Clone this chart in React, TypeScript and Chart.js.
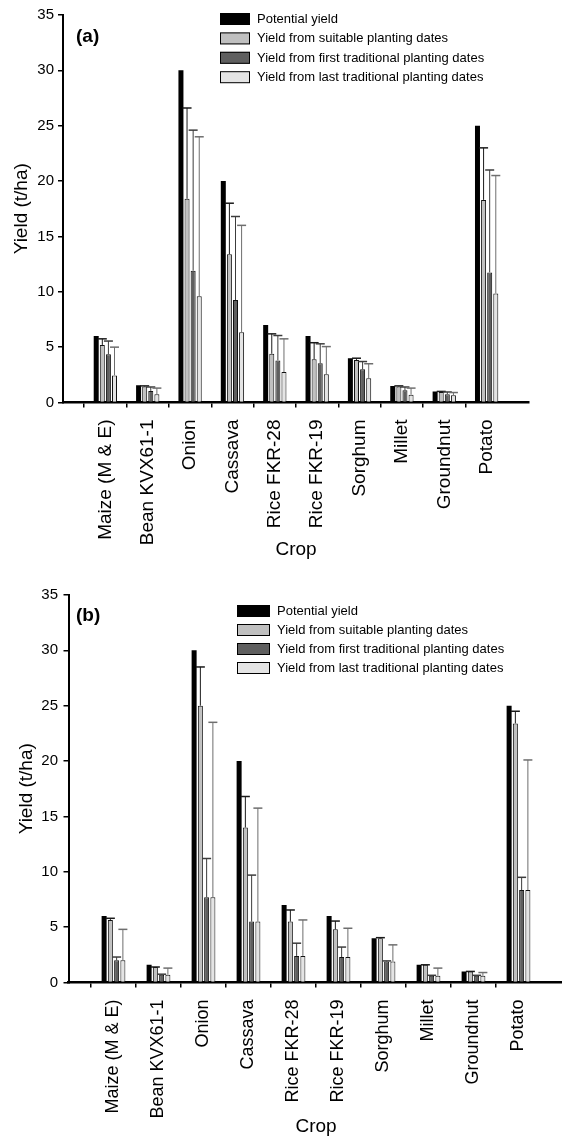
import React, { useEffect, useRef } from 'react';
import { Chart, registerables } from 'chart.js';

Chart.register(...registerables);
Chart.defaults.font.family = '"Liberation Sans", Arial, Helvetica, sans-serif';
Chart.defaults.color = '#000';

// ---------- data ----------
const crops = [
  'Maize (M & E)', 'Bean KVX61-1', 'Onion', 'Cassava', 'Rice FKR-28',
  'Rice FKR-19', 'Sorghum', 'Millet', 'Groundnut', 'Potato',
];
const seriesLabels = [
  'Potential yield',
  'Yield from suitable planting dates',
  'Yield from first traditional planting dates',
  'Yield from last traditional planting dates',
];
const yTicks = [0, 5, 10, 15, 20, 25, 30, 35];

// panel (a)
const potentialA = [6.0, 1.55, 30.0, 20.0, 7.0, 6.0, 4.0, 1.5, 1.0, 25.0];
const suitableA = [5.2, 1.45, 18.4, 13.4, 4.4, 3.9, 3.85, 1.45, 0.95, 18.3];
const firstA = [4.35, 1.05, 11.9, 9.25, 3.8, 3.55, 3.0, 1.1, 0.75, 11.75];
const lastA = [2.45, 0.75, 9.6, 6.35, 2.75, 2.55, 2.2, 0.7, 0.65, 9.85];
const suitableErrA = [5.75, 1.5, 26.6, 18.0, 6.2, 5.4, 4.0, 1.5, 1.0, 23.0];
const firstErrA = [5.55, 1.4, 24.6, 16.8, 6.05, 5.3, 3.7, 1.4, 0.95, 21.0];
const lastErrA = [5.0, 1.3, 24.0, 16.0, 5.75, 5.05, 3.5, 1.3, 0.9, 20.5];

// panel (b)
const potentialB = [6.0, 1.6, 30.0, 20.0, 7.0, 6.0, 4.0, 1.6, 1.0, 25.0];
const suitableB = [5.65, 1.4, 25.0, 14.0, 5.5, 4.8, 4.0, 1.6, 1.0, 23.4];
const firstB = [2.0, 0.7, 7.7, 5.5, 2.4, 2.3, 1.9, 0.6, 0.6, 8.35];
const lastB = [2.0, 0.7, 7.7, 5.5, 2.4, 2.3, 1.9, 0.6, 0.6, 8.35];
const suitableErrB = [5.8, 1.4, 28.5, 16.8, 6.55, 5.55, 4.05, 1.6, 1.0, 24.5];
const firstErrB = [2.3, 0.75, 11.2, 9.7, 3.55, 3.2, 1.95, 0.65, 0.65, 9.5];
const lastErrB = [4.8, 1.3, 23.5, 15.75, 5.65, 4.9, 3.4, 1.3, 0.9, 20.1];

// ---------- styles ----------
const fillColors = ['#000000', '#c0c0c0', '#5f5f5f', '#e4e4e4'];
const errColors = ['#000000', '#1a1a1a', '#3c3c3c', '#6e6e6e'];
const FONT = '"Liberation Sans", Arial, Helvetica, sans-serif';

const padArr = (arr: (number | null)[]) => [null, ...arr, null];

// ---------- plugins ----------
const errorBarPlugin = {
  id: 'errorBars',
  afterDatasetsDraw(chart: any) {
    const { ctx } = chart;
    const yScale = chart.scales.y;
    chart.data.datasets.forEach((ds: any, di: number) => {
      const errs = ds.errorBars;
      if (!errs) return;
      const meta = chart.getDatasetMeta(di);
      ctx.save();
      ctx.strokeStyle = ds.errorColor;
      meta.data.forEach((bar: any, i: number) => {
        const e = errs[i];
        if (e == null) return;
        const x = bar.x;
        const yt = yScale.getPixelForValue(e);
        ctx.lineWidth = 1;
        ctx.beginPath();
        ctx.moveTo(x, bar.y);
        ctx.lineTo(x, yt);
        ctx.stroke();
        ctx.lineWidth = 1.5;
        ctx.beginPath();
        ctx.moveTo(x - 4.5, yt);
        ctx.lineTo(x + 4.5, yt);
        ctx.stroke();
      });
      ctx.restore();
    });
  },
};

const boxLegendPlugin = {
  id: 'boxLegend',
  afterDraw(chart: any, _args: any, opts: any) {
    const { ctx } = chart;
    ctx.save();
    ctx.font = `${opts.fontSize}px ${FONT}`;
    ctx.textBaseline = 'middle';
    ctx.textAlign = 'left';
    chart.data.datasets.forEach((ds: any, i: number) => {
      const top = opts.y + i * opts.rowH;
      ctx.fillStyle = ds.backgroundColor;
      ctx.fillRect(opts.x, top, opts.boxW, opts.boxH);
      ctx.strokeStyle = '#000';
      ctx.lineWidth = 1;
      ctx.strokeRect(opts.x + 0.5, top + 0.5, opts.boxW - 1, opts.boxH - 1);
      ctx.fillStyle = '#000';
      ctx.fillText(ds.label, opts.x + opts.boxW + opts.gap, top + opts.boxH / 2 + 0.5);
    });
    ctx.restore();
  },
};

const panelLabelPlugin = {
  id: 'panelLabel',
  afterDraw(chart: any, _args: any, opts: any) {
    const { ctx } = chart;
    ctx.save();
    ctx.font = `bold ${opts.fontSize}px ${FONT}`;
    ctx.fillStyle = '#000';
    ctx.textBaseline = 'alphabetic';
    ctx.textAlign = 'left';
    ctx.fillText(opts.text, opts.x, opts.y);
    ctx.restore();
  },
};

// ---------- config ----------
function buildConfig(s: any) {
  const n = crops.length;
  const labels = ['', ...crops, ''];
  const values = [s.potential, s.suitable, s.first, s.last];
  const errs = [null, s.suitableErr, s.firstErr, s.lastErr];
  return {
    type: 'bar',
    data: {
      labels,
      datasets: seriesLabels.map((label, i) => ({
        label,
        data: padArr(values[i]),
        backgroundColor: fillColors[i],
        borderColor: '#111',
        borderWidth: i === 0 ? 0 : 1,
        borderSkipped: 'start',
        categoryPercentage: s.catPct,
        barPercentage: s.barPct,
        errorBars: errs[i] ? padArr(errs[i]) : null,
        errorColor: errColors[i],
      })),
    },
    options: {
      responsive: false,
      devicePixelRatio: 1,
      animation: false,
      events: [],
      layout: { padding: { top: s.padTop, right: s.padRight, left: 0, bottom: 0 } },
      plugins: {
        legend: { display: false },
        tooltip: { enabled: false },
        boxLegend: s.legend,
        panelLabel: s.panel,
      },
      scales: {
        x: {
          type: 'category',
          offset: false,
          afterFit: (sc: any) => {
            sc.height = s.xAxisH;
            sc.paddingLeft = 0;
            sc.paddingRight = 0;
          },
          grid: {
            drawOnChartArea: false,
            drawTicks: true,
            tickLength: 5,
            lineWidth: 1.5,
            color: (c: any) => (c.index === 0 || c.index === n + 1 ? 'rgba(0,0,0,0)' : '#000'),
          },
          border: { display: true, color: '#000', width: 2.5 },
          ticks: {
            autoSkip: false,
            maxRotation: 90,
            minRotation: 90,
            padding: s.xTickPad,
            font: { size: s.xTickSize },
            color: '#000',
          },
          title: {
            display: true,
            text: 'Crop',
            font: { size: 19, lineHeight: 1.2 },
            color: '#000',
            padding: { top: 0, bottom: s.xTitlePad },
          },
        },
        y: {
          min: 0,
          max: 35,
          afterFit: (sc: any) => {
            sc.width = s.yAxisW;
            sc.paddingTop = 0;
            sc.paddingBottom = 0;
          },
          afterBuildTicks: (sc: any) => { sc.ticks = yTicks.map((v) => ({ value: v })); },
          grid: {
            drawOnChartArea: false,
            drawTicks: true,
            tickLength: 5,
            lineWidth: 1.5,
            color: '#000',
          },
          border: { display: true, color: '#000', width: 2 },
          ticks: {
            padding: s.yTickPad,
            font: { size: 15 },
            color: '#000',
          },
          title: {
            display: true,
            text: 'Yield (t/ha)',
            font: { size: 19, lineHeight: 1.2 },
            color: '#000',
            padding: { top: s.yTitlePad, bottom: 0 },
          },
        },
      },
    },
    plugins: [errorBarPlugin, boxLegendPlugin, panelLabelPlugin],
  };
}

const specA = {
  potential: potentialA, suitable: suitableA, first: firstA, last: lastA,
  suitableErr: suitableErrA, firstErr: firstErrA, lastErr: lastErrA,
  catPct: 0.576, barPct: 0.82,
  padTop: 15, padRight: 33, xAxisH: 169.5, yAxisW: 63,
  xTickPad: 12, xTickSize: 19, xTitlePad: 10.6, yTickPad: 4, yTitlePad: 10.6,
  legend: { x: 220, y: 13, boxW: 30, boxH: 12, rowH: 19.4, gap: 7, fontSize: 13 },
  panel: { text: '(a)', x: 76, y: 42, fontSize: 19 },
};

const specB = {
  potential: potentialB, suitable: suitableB, first: firstB, last: lastB,
  suitableErr: suitableErrB, firstErr: firstErrB, lastErr: lastErrB,
  catPct: 0.556, barPct: 0.8,
  padTop: 23, padRight: 11.5, xAxisH: 162.5, yAxisW: 68.5,
  xTickPad: 12, xTickSize: 18, xTitlePad: 7.2, yTickPad: 5.5, yTitlePad: 15.6,
  legend: { x: 237, y: 33, boxW: 33, boxH: 12, rowH: 19, gap: 7, fontSize: 13 },
  panel: { text: '(b)', x: 76, y: 48.5, fontSize: 19 },
};

function YieldChart({ spec, width, height, top }: any) {
  const ref = useRef<HTMLCanvasElement | null>(null);
  useEffect(() => {
    if (!ref.current) return;
    const chart = new Chart(ref.current, buildConfig(spec) as any);
    return () => chart.destroy();
  }, [spec]);
  return (
    <div style={{ position: 'absolute', left: 0, top, width, height }}>
      <canvas ref={ref} width={width} height={height} style={{ width, height, display: 'block' }} />
    </div>
  );
}

export default function App() {
  return (
    <div
      style={{
        position: 'absolute', left: 0, top: 0, width: 562, height: 1145,
        overflow: 'hidden', background: '#fff',
      }}
    >
      <YieldChart spec={specA} width={562} height={572} top={0} />
      <YieldChart spec={specB} width={575} height={573} top={572} />
    </div>
  );
}
